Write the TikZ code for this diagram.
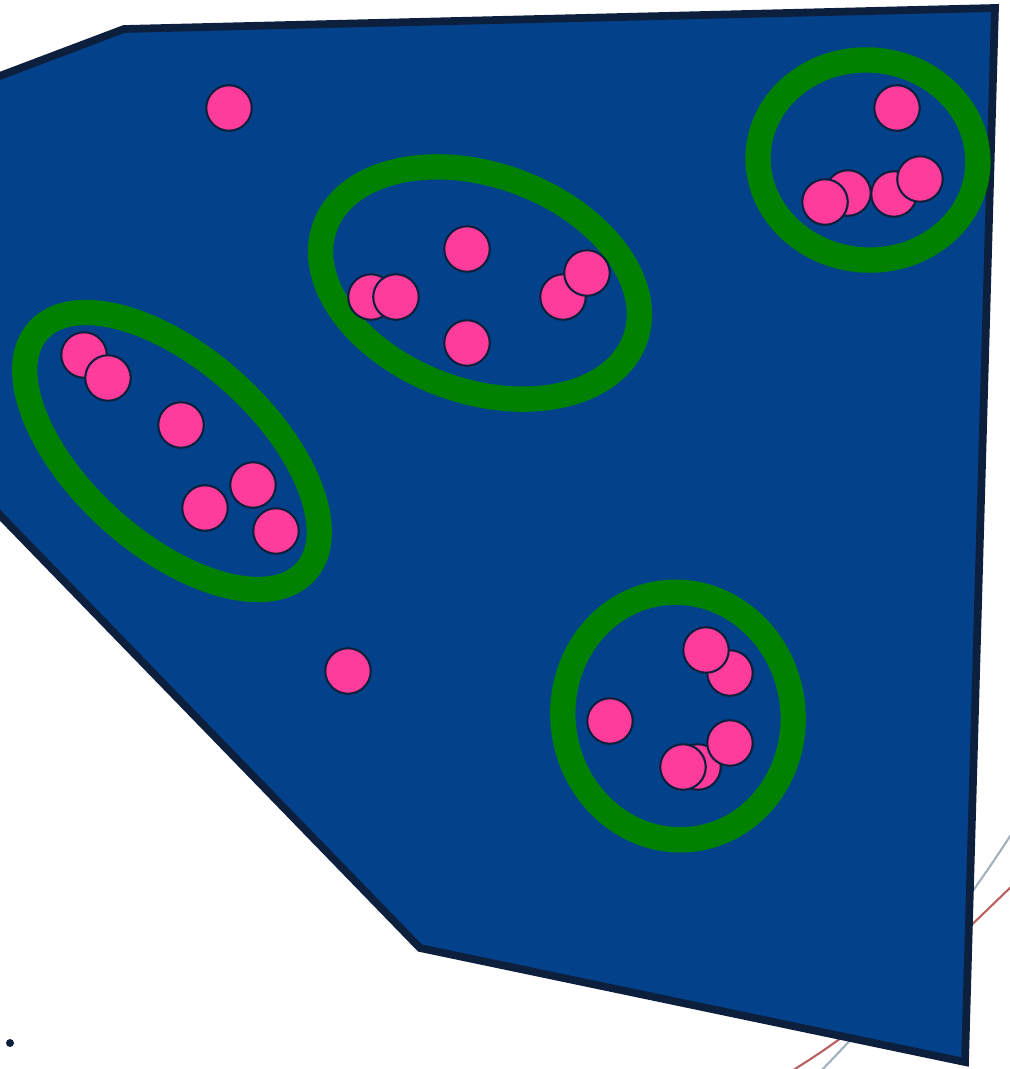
\documentclass[tikz,border=0pt]{standalone}
\usepackage{tikz}
\usepackage{xcolor}
\definecolor{fieldblue}{HTML}{03428A}
\definecolor{fieldedge}{HTML}{0C1F3D}
\definecolor{ringgreen}{HTML}{018001}
\definecolor{dotpink}{HTML}{FF3C9C}
\definecolor{arcgray}{HTML}{8C9CB0}
\definecolor{arcred}{HTML}{A83A3A}

\begin{document}
\begin{tikzpicture}[x=0.01cm, y=-0.01cm,
    field/.style={draw=fieldedge, fill=fieldblue, line width=2.2pt, line join=miter},
    ring/.style={draw=ringgreen, line width=7.2pt},
    pinkdot/.style={circle, draw=fieldedge, fill=dotpink, line width=0.6pt,
                    minimum size=0.455cm, inner sep=0pt},
    faintarc/.style={line width=0.6pt, opacity=0.8}]
\useasboundingbox (0,0) rectangle (1010,1069);

\draw[faintarc, arcgray] (1014,830) .. controls (950,930) and (885,1005) .. (818,1074);
\draw[faintarc, arcred] (1014,884) .. controls (930,965) and (875,1020) .. (790,1072);

\draw[field] (-40,91) -- (124,29) -- (995,8) -- (965,1062) -- (420,948)
    -- (-40,474) -- cycle;
\fill[fieldedge] (10,1043) circle [radius=4];

\draw[ring, rotate around={-42:(172,451)}] (172,451) ellipse [x radius=180, y radius=92];
\draw[ring, rotate around={-20:(480,283)}] (480,283) ellipse [x radius=165, y radius=108];
\draw[ring, rotate around={-5:(868,160)}] (868,160) ellipse [x radius=110, y radius=100];
\draw[ring, rotate around={8:(678,716)}] (678,716) ellipse [x radius=115, y radius=124];

\node[pinkdot] (lone1) at (229,108) {};
\node[pinkdot] (lone2) at (348,671) {};

\node[pinkdot] (left1) at (84,355) {};
\node[pinkdot] (left2) at (108,378) {};
\node[pinkdot] (left3) at (181,425) {};
\node[pinkdot] (left4) at (205,508) {};
\node[pinkdot] (left5) at (253,485) {};
\node[pinkdot] (left6) at (276,531) {};

\node[pinkdot] (mid1) at (371,297) {};
\node[pinkdot] (mid2) at (396,297) {};
\node[pinkdot] (mid3) at (467,249) {};
\node[pinkdot] (mid4) at (467,343) {};
\node[pinkdot] (mid5) at (563,297) {};
\node[pinkdot] (mid6) at (587,273) {};

\node[pinkdot] (top1) at (897,108) {};
\node[pinkdot] (top2) at (848,193) {};
\node[pinkdot] (top3) at (825,202) {};
\node[pinkdot] (top4) at (894,194) {};
\node[pinkdot] (top5) at (920,179) {};

\node[pinkdot] (low1) at (730,673) {};
\node[pinkdot] (low2) at (706,650) {};
\node[pinkdot] (low3) at (610,721) {};
\node[pinkdot] (low4) at (698,767) {};
\node[pinkdot] (low5) at (730,743) {};
\node[pinkdot] (low6) at (683,767) {};
\end{tikzpicture}
\end{document}
